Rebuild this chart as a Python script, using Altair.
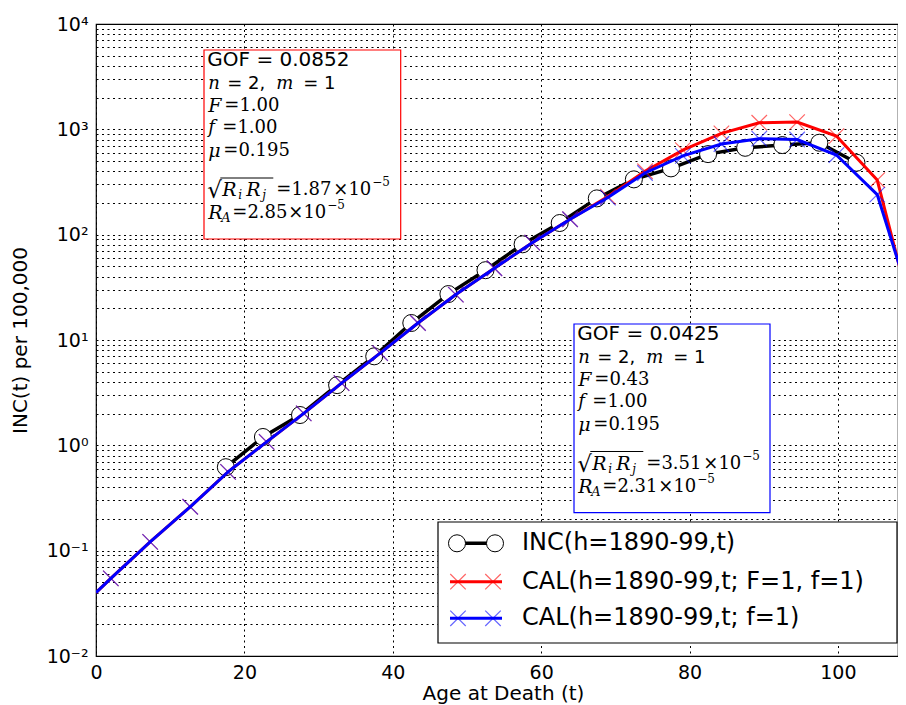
import altair as alt
import pandas as pd

# ---------------- data ----------------
inc_age = [17.5, 22.5, 27.5, 32.5, 37.5, 42.5, 47.5, 52.5, 57.5, 62.5,
           67.5, 72.5, 77.5, 82.5, 87.5, 92.5, 97.5, 102.5]
inc_val = [0.62, 1.20, 1.94, 3.73, 7.0, 14.5, 27.3, 46, 81, 129,
           221, 335, 426, 582, 668, 709, 746, 482]

cal_age = [2.0, 7.3, 12.7, 17.8, 23.0, 28.0, 33.1, 38.3, 43.4, 48.5, 53.7,
           58.8, 63.9, 69.0, 74.0, 79.1, 84.3, 89.4, 94.5, 99.8, 105.3]
cal_red_val = [0.0545, 0.121, 0.261, 0.56, 1.08, 2.01, 3.9, 7.5, 14.5, 27, 48,
               84, 140, 230, 400, 635, 916, 1156, 1172, 863, 330]
cal_blue_val = [0.0545, 0.121, 0.261, 0.56, 1.08, 2.01, 3.9, 7.5, 14.5, 27, 48,
                84, 140, 225, 385, 560, 725, 815, 800, 570, 240]
# line ends (no marker) at the plot edges
cal_start_age, cal_end_age = 0.0, 110.0
red_start_val, red_end_val = 0.040, 17
blue_start_val, blue_end_val = 0.040, 21

series_names = ["INC(h=1890-99,t)", "CAL(h=1890-99,t; F=1, f=1)", "CAL(h=1890-99,t; f=1)"]

x_ticks = [0, 20, 40, 60, 80, 100]
y_tick_values = [0.01, 0.1, 1, 10, 100, 1000, 10000]
y_tick_labels = ["10⁻²", "10⁻¹", "10⁰", "10¹", "10²", "10³", "10⁴"]

box_red = dict(gof="0.0852", F="1.00", f="1.00", mu="0.195", rr="1.87", ra="2.85")
box_blue = dict(gof="0.0425", F="0.43", f="1.00", mu="0.195", rr="3.51", ra="2.31")

# ---------------- build ----------------
SANS = "DejaVu Sans"
SERIF = "DejaVu Serif"
W, H = 802, 632

inc_df = pd.DataFrame({"age": inc_age, "val": inc_val})
red_pts = pd.DataFrame({"age": cal_age, "val": cal_red_val})
blue_pts = pd.DataFrame({"age": cal_age, "val": cal_blue_val})
red_line = pd.DataFrame({"age": [cal_start_age] + cal_age + [cal_end_age],
                         "val": [red_start_val] + cal_red_val + [red_end_val]})
blue_line = pd.DataFrame({"age": [cal_start_age] + cal_age + [cal_end_age],
                          "val": [blue_start_val] + cal_blue_val + [blue_end_val]})

minor_vals = []
for k in range(-2, 4):
    for d in range(1, 10):
        minor_vals.append(float(f"{d}e{k}"))
minor_vals.append(10000.0)

label_expr = ""
for v, lab in zip(y_tick_values, y_tick_labels):
    label_expr += f"datum.value == {v} ? '{lab}' : "
label_expr += "''"

xs = alt.Scale(domain=[0, 108.1], nice=False, zero=False)
ys = alt.Scale(type="log", domain=[0.01, 10000], nice=False)

GRID_DASH = [2, 3.5]
x_axis = alt.Axis(values=x_ticks, grid=True, gridDash=GRID_DASH, gridColor="black",
                  gridOpacity=1, gridWidth=1, domain=False, ticks=False, tickSize=0,
                  labelFont=SANS, labelFontSize=19, labelColor="black", labelPadding=7,
                  labelFlush=False, title="Age at Death (t)", titleFont=SANS,
                  titleFontSize=20, titleFontWeight="normal", titleColor="black",
                  titleX=407, titleY=43, titleBaseline="alphabetic", titleAlign="center")
y_axis = alt.Axis(values=minor_vals, grid=True, gridDash=GRID_DASH, gridColor="black",
                  gridOpacity=1, gridWidth=1, domain=False, ticks=False, tickSize=0,
                  labelExpr=label_expr, labelOverlap=False, labelFont=SANS,
                  labelFontSize=19, labelColor="black", labelPadding=8,
                  title="INC(t) per 100,000", titleFont=SANS, titleFontSize=20,
                  titleFontWeight="normal", titleColor="black", titleX=-76, titleY=316,
                  titleAngle=270, titleAlign="center", titleBaseline="middle")

X = alt.X("age:Q", scale=xs, axis=x_axis)
Y = alt.Y("val:Q", scale=ys, axis=y_axis)

XSHAPE = "M-1,-1L1,1M-1,1L1,-1"
RED = "#ff0000"
BLUE = "#0000ff"

inc_line_l = alt.Chart(inc_df).mark_line(color="black", strokeWidth=3.5, clip=True).encode(x=X, y=Y)
inc_pts_l = alt.Chart(inc_df).mark_point(shape="circle", size=290, filled=True, fill="white",
                                          stroke="black", strokeWidth=1, opacity=1,
                                          clip=True).encode(x=X, y=Y)
red_line_l = alt.Chart(red_line).mark_line(color=RED, strokeWidth=3, clip=True).encode(x=X, y=Y)
red_pts_l = alt.Chart(red_pts).mark_point(shape=XSHAPE, size=240, color=RED, strokeWidth=1.2,
                                          opacity=0.6, clip=True).encode(x=X, y=Y)
blue_line_l = alt.Chart(blue_line).mark_line(color=BLUE, strokeWidth=3, clip=True).encode(x=X, y=Y)
blue_pts_l = alt.Chart(blue_pts).mark_point(shape=XSHAPE, size=240, color=BLUE, strokeWidth=1.2,
                                            opacity=0.6, clip=True).encode(x=X, y=Y)

one = pd.DataFrame({"a": [0]})


def txt(s, x, y, size, font, style="normal"):
    return alt.Chart(one).mark_text(text=s, align="left", baseline="middle", fontSize=size,
                                    font=font, fontStyle=style, color="black").encode(
        x=alt.value(x), y=alt.value(y))


def rect(x, x2, y, y2, stroke, width=1.2):
    return alt.Chart(one).mark_rect(fill="white", stroke=stroke, strokeWidth=width).encode(
        x=alt.value(x), x2=alt.value(x2), y=alt.value(y), y2=alt.value(y2))


def hrule(x, x2, y, color, width):
    return alt.Chart(one).mark_rule(color=color, strokeWidth=width).encode(
        x=alt.value(x), x2=alt.value(x2), y=alt.value(y))


def box(b, bx, by, bx2, by2, stroke, x0, dy):
    L = [rect(bx, bx2, by, by2, stroke)]
    L.append(txt(f"GOF = {b['gof']}", x0 - 1, 36 + dy, 20, SANS))
    y = 60 + dy
    L += [txt("n", x0, y, 18, SERIF, "italic"), txt("= 2,", x0 + 19, y, 18, SANS),
          txt("m", x0 + 68, y, 18, SERIF, "italic"), txt("= 1", x0 + 95, y, 18, SANS)]
    y = 82 + dy
    L += [txt("F", x0, y, 19, SERIF, "italic"), txt(f"={b['F']}", x0 + 16, y, 18, SERIF)]
    y = 104 + dy
    L += [txt("f", x0, y, 18, SERIF, "italic"), txt(f"={b['f']}", x0 + 14, y, 18, SERIF)]
    y = 127 + dy
    L += [txt("μ", x0, y, 19, SERIF, "italic"), txt(f"={b['mu']}", x0 + 15, y, 18, SERIF)]
    y = 166 + dy
    L += [txt("√", x0 - 1, y + 1, 23, SERIF), hrule(x0 + 12, x0 + 65, y - 12, "black", 1),
          txt("R", x0 + 14, y, 19, SERIF, "italic"), txt("i", x0 + 30, y + 5, 12, SERIF, "italic"),
          txt("R", x0 + 38, y, 19, SERIF, "italic"), txt("j", x0 + 54, y + 5, 12, SERIF, "italic"),
          txt(f"={b['rr']}", x0 + 68, y, 18, SERIF), txt("×10", x0 + 125, y, 18, SERIF),
          txt("−5", x0 + 164, y - 8, 12, SERIF)]
    y = 189 + dy
    L += [txt("R", x0, y, 19, SERIF, "italic"), txt("A", x0 + 13, y + 5, 13, SERIF, "italic"),
          txt(f"={b['ra']}", x0 + 24, y, 18, SERIF), txt("×10", x0 + 80, y, 18, SERIF),
          txt("−5", x0 + 119, y - 8, 12, SERIF)]
    return L


ann = box(box_red, 108, 26, 304.7, 215, RED, 112.3, 0)
ann += box(box_blue, 478, 300, 674, 488.7, BLUE, 482.3, 273.5)


def pt(x, y, **kw):
    return alt.Chart(one).mark_point(**kw).encode(x=alt.value(x), y=alt.value(y))


leg = [rect(342, 801, 498, 619, "black", 1.2)]
rows = [519.3, 557.7, 594.3]
leg += [hrule(361, 399, rows[0], "black", 3.5),
        pt(361, rows[0], shape="circle", size=290, filled=True, fill="white", stroke="black",
           strokeWidth=1, opacity=1),
        pt(399, rows[0], shape="circle", size=290, filled=True, fill="white", stroke="black",
           strokeWidth=1, opacity=1)]
for r, col in [(rows[1], RED), (rows[2], BLUE)]:
    leg += [hrule(354, 406, r, col, 3),
            pt(362, r, shape=XSHAPE, size=240, color=col, strokeWidth=1.2, opacity=0.6),
            pt(397, r, shape=XSHAPE, size=240, color=col, strokeWidth=1.2, opacity=0.6)]
for r, name in zip(rows, series_names):
    leg.append(txt(name, 426, r, 24, SANS))

chart = alt.layer(inc_line_l, inc_pts_l, red_line_l, red_pts_l, blue_line_l, blue_pts_l,
                  *ann, *leg).properties(
    width=W, height=H,
    autosize=alt.AutoSizeParams(type="none"),
    padding={"left": 88, "top": 16, "right": 0, "bottom": 49},
    background="white",
).configure_view(stroke="black", strokeWidth=1.2)

chart.save("out.html", embed_options={"renderer": "svg", "actions": False})
